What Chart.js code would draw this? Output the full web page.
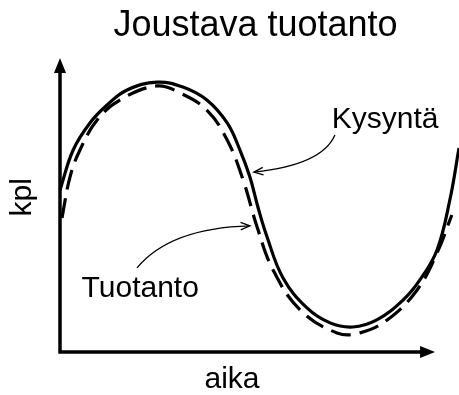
<!DOCTYPE html>
<html>
<head>
<meta charset="utf-8">
<script src="https://cdn.jsdelivr.net/npm/chart.js@4.4.1/dist/chart.umd.min.js"></script>
<style>
  html, body { margin: 0; padding: 0; background: #fff; }
</style>
</head>
<body>
<canvas id="chart" width="459" height="395"></canvas>
<script>
// Kysyntä (demand) - solid curve
const kysyntaAika = [0, 0.33, 0.75, 1.18, 1.68, 2.43, 3.08, 3.68, 4.19, 4.51, 4.76, 4.96, 5.19, 5.59, 6.19, 6.77, 7.34, 7.94, 8.6, 9.02, 9.45, 9.77, 10];
const kysyntaKpl = [5.51, 6.87, 7.79, 8.4, 8.91, 9.18, 9.01, 8.57, 7.79, 6.87, 5.95, 4.93, 3.91, 2.52, 1.5, 0.99, 0.85, 1.09, 1.77, 2.45, 3.47, 5.17, 6.94];

// Tuotanto (production) - dashed curve
const tuotantoAika = [0.05, 0.25, 0.5, 0.93, 1.5, 2.43, 3.01, 3.68, 4.19, 4.59, 4.94, 5.34, 6.02, 6.94, 7.52, 8.2, 8.95, 9.45, 9.82];
const tuotantoKpl = [4.56, 5.95, 6.87, 7.89, 8.57, 9.05, 8.81, 8.23, 7.21, 5.85, 4.25, 2.79, 1.43, 0.65, 0.65, 1.09, 2.11, 3.37, 4.66];

const toPoints = (xs, ys) => xs.map((x, i) => ({ x: x, y: ys[i] }));

// annotation positions in data units
const notes = [
    { text: 'Kysyntä', at: [8.15, 7.62], from: [6.89, 7.38], ctrl: [6.57, 6.36], to: [4.86, 6.12] },
    { text: 'Tuotanto', at: [2.01, 1.87], from: [1.93, 2.86], ctrl: [2.76, 4.22], to: [4.76, 4.29] },
];

const FONT = '"Liberation Sans", Arial, Helvetica, sans-serif';

const sketchPlugin = {
    id: 'sketch',
    afterDatasetsDraw(chart) {
        const ctx = chart.ctx;
        const xs = chart.scales.x, ys = chart.scales.y;
        const px = v => xs.getPixelForValue(v);
        const py = v => ys.getPixelForValue(v);
        const left = px(0), bottom = py(0);

        ctx.save();
        ctx.fillStyle = '#000';
        ctx.strokeStyle = '#000';

        // axes with arrow heads
        ctx.lineWidth = 3.5;
        ctx.beginPath();
        ctx.moveTo(left, bottom + 1.75);
        ctx.lineTo(left, py(10) + 12);
        ctx.moveTo(left - 1.75, bottom);
        ctx.lineTo(px(9.4) - 12, bottom);
        ctx.stroke();

        ctx.beginPath();
        ctx.moveTo(left, py(10));
        ctx.lineTo(left - 6, py(10) + 15);
        ctx.lineTo(left + 6, py(10) + 15);
        ctx.closePath();
        ctx.fill();

        ctx.beginPath();
        ctx.moveTo(px(9.4), bottom);
        ctx.lineTo(px(9.4) - 15, bottom - 6);
        ctx.lineTo(px(9.4) - 15, bottom + 6);
        ctx.closePath();
        ctx.fill();

        // title and axis labels
        ctx.textAlign = 'center';
        ctx.textBaseline = 'alphabetic';
        ctx.font = '36px ' + FONT;
        ctx.fillText('Joustava tuotanto', px(4.9), 36);

        ctx.font = '30px ' + FONT;
        ctx.fillText('aika', px(4.31), 388);

        ctx.save();
        ctx.translate(23, py(5.26));
        ctx.rotate(-Math.PI / 2);
        ctx.textBaseline = 'middle';
        ctx.fillText('kpl', 0, 0);
        ctx.restore();

        // annotations with curved arrows
        ctx.lineWidth = 1.3;
        notes.forEach(n => {
            ctx.fillText(n.text, px(n.at[0]), py(n.at[1]));
            const x0 = px(n.from[0]), y0 = py(n.from[1]);
            const cx = px(n.ctrl[0]), cy = py(n.ctrl[1]);
            const x1 = px(n.to[0]), y1 = py(n.to[1]);
            ctx.beginPath();
            ctx.moveTo(x0, y0);
            ctx.quadraticCurveTo(cx, cy, x1, y1);
            ctx.stroke();
            const a = Math.atan2(y1 - cy, x1 - cx);
            const len = 10, spread = 0.38;
            ctx.beginPath();
            ctx.moveTo(x1 - len * Math.cos(a - spread), y1 - len * Math.sin(a - spread));
            ctx.lineTo(x1, y1);
            ctx.lineTo(x1 - len * Math.cos(a + spread), y1 - len * Math.sin(a + spread));
            ctx.stroke();
        });

        ctx.restore();
    }
};

new Chart(document.getElementById('chart').getContext('2d'), {
    type: 'line',
    data: {
        datasets: [{
            label: 'Kysyntä',
            data: toPoints(kysyntaAika, kysyntaKpl),
            borderColor: '#000',
            borderWidth: 3.2,
            pointRadius: 0,
            tension: 0.4,
            fill: false,
            clip: false,
        }, {
            label: 'Tuotanto',
            data: toPoints(tuotantoAika, tuotantoKpl),
            borderColor: '#000',
            borderWidth: 3.2,
            borderDash: [20, 9],
            pointRadius: 0,
            tension: 0.4,
            fill: false,
            clip: false,
        }],
    },
    options: {
        responsive: false,
        animation: false,
        devicePixelRatio: 1,
        layout: { padding: { left: 60, top: 58, right: 0, bottom: 43 } },
        plugins: {
            legend: { display: false },
            tooltip: { enabled: false },
        },
        scales: {
            x: { type: 'linear', min: 0, max: 10, display: false },
            y: { type: 'linear', min: 0, max: 10, display: false },
        },
    },
    plugins: [sketchPlugin],
});
</script>
</body>
</html>
